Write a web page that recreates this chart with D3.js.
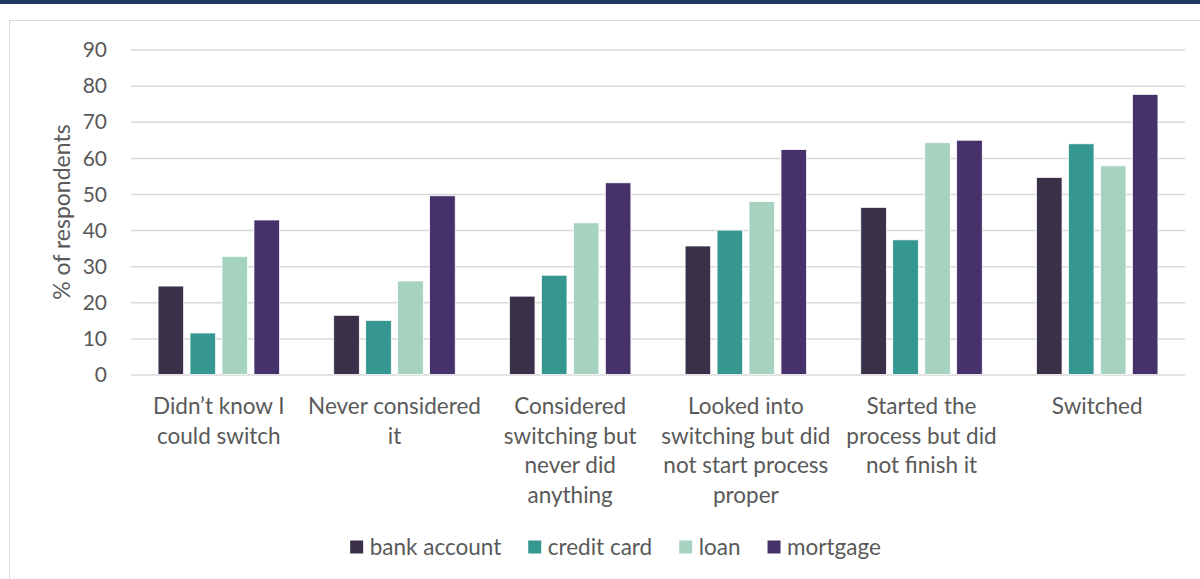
<!DOCTYPE html>
<html><head><meta charset="utf-8">
<script src="https://cdn.jsdelivr.net/npm/d3@7/dist/d3.min.js"></script>
<style>
html,body{margin:0;padding:0;background:#fff;}
svg{display:block;}
text{font-family:Lato,"Open Sans",sans-serif;fill:#595959;}
</style></head>
<body>
<svg id="chart" width="1200" height="579"></svg>
<script>
const categories = [
  ["Didn\u2019t know I","could switch"],
  ["Never considered","it"],
  ["Considered","switching but","never did","anything"],
  ["Looked into","switching but did","not start process","proper"],
  ["Started the","process but did","not finish it"],
  ["Switched"]
];
const seriesNames = ["bank account","credit card","loan","mortgage"];
const seriesColors = ["#3a3049","#369690","#a6d3c0","#46326b"];
const bankAccount = [24.5, 16.4, 21.7, 35.6, 46.3, 54.6];
const creditCard  = [11.5, 15.0, 27.5, 40.0, 37.3, 63.9];
const loan        = [32.7, 25.9, 42.0, 47.9, 64.2, 57.8];
const mortgage    = [42.8, 49.5, 53.1, 62.3, 64.9, 77.6];
const yTicks = [0,10,20,30,40,50,60,70,80,90];

(function(){
const seriesValues = [bankAccount, creditCard, loan, mortgage];
const svg = d3.select("#chart");

// top band and chart border
svg.append("rect").attr("x",0).attr("y",0).attr("width",1200).attr("height",4).attr("fill","#1f3864");
svg.append("rect").attr("x",9.5).attr("y",20.5).attr("width",1200).attr("height",600)
  .attr("fill","none").attr("stroke","#d9d9d9").attr("stroke-width",1);

const pLeft = 131, pRight = 1185, pTop = 49.6, pBottom = 374.5;
const y = d3.scaleLinear().domain([0,90]).range([pBottom, pTop]);
const x0 = d3.scaleBand().domain(d3.range(categories.length)).range([pLeft,pRight])
  .paddingInner(0.3085).paddingOuter(0.154);
const x1 = d3.scaleBand().domain(d3.range(seriesNames.length)).range([0,x0.bandwidth()])
  .paddingInner(0.2).paddingOuter(0.0);

// gridlines
const yAxis = d3.axisLeft(y).tickValues(yTicks).tickSize(-(pRight-pLeft)).tickPadding(24).tickFormat(d3.format("d"));
const gy = svg.append("g").attr("transform",`translate(${pLeft},0)`).call(yAxis);
gy.select(".domain").remove();
gy.selectAll(".tick line").attr("stroke","#d9d9d9").attr("stroke-width",1.5);
gy.selectAll(".tick text").style("font-size","21px").style("font-family","Lato,sans-serif").attr("fill","#595959").attr("dy","0.34em");

// bars
const groups = svg.append("g").selectAll("g").data(categories).join("g")
  .attr("transform",(d,i)=>`translate(${x0(i)},0)`);
groups.selectAll("rect").data((d,i)=>seriesValues.map((s,j)=>({j, v:s[i]}))).join("rect")
  .attr("x",d=>x1(d.j)).attr("width",x1.bandwidth())
  .attr("y",d=>y(d.v)).attr("height",d=>y(0)-y(d.v))
  .attr("fill",d=>seriesColors[d.j]).attr("stroke","#ffffff").attr("stroke-width",0.75);

// category labels
const lab = svg.append("g").selectAll("text").data(categories).join("text")
  .attr("text-anchor","middle").style("font-size","22.5px")
  .attr("transform",(d,i)=>`translate(${x0(i)+x0.bandwidth()/2},414)`);
lab.selectAll("tspan").data(d=>d).join("tspan")
  .attr("x",0).attr("dy",(d,i)=>i===0?0:29.5).text(d=>d);

// y-axis title
svg.append("text").attr("transform",`translate(70,${(pTop+pBottom)/2}) rotate(-90)`)
  .attr("text-anchor","middle").style("font-size","23px").text("% of respondents");

// legend
const lg = svg.append("g");
let xpos = 0;
const items = [];
seriesNames.forEach((n,i)=>{
  const g = lg.append("g");
  g.append("rect").attr("x",0).attr("y",-6.5).attr("width",13).attr("height",13).attr("fill",seriesColors[i]);
  const t = g.append("text").attr("x",19.5).attr("y",0).attr("dy","0.35em").style("font-size","22.5px").text(n);
  items.push({g, w: 19.5 + t.node().getComputedTextLength()});
});
items.forEach(it=>{ it.g.attr("transform",`translate(${xpos},0)`); xpos += it.w + 27; });
xpos -= 27;
lg.attr("transform",`translate(${615.5 - xpos/2},547)`);
})();
</script>
</body></html>
